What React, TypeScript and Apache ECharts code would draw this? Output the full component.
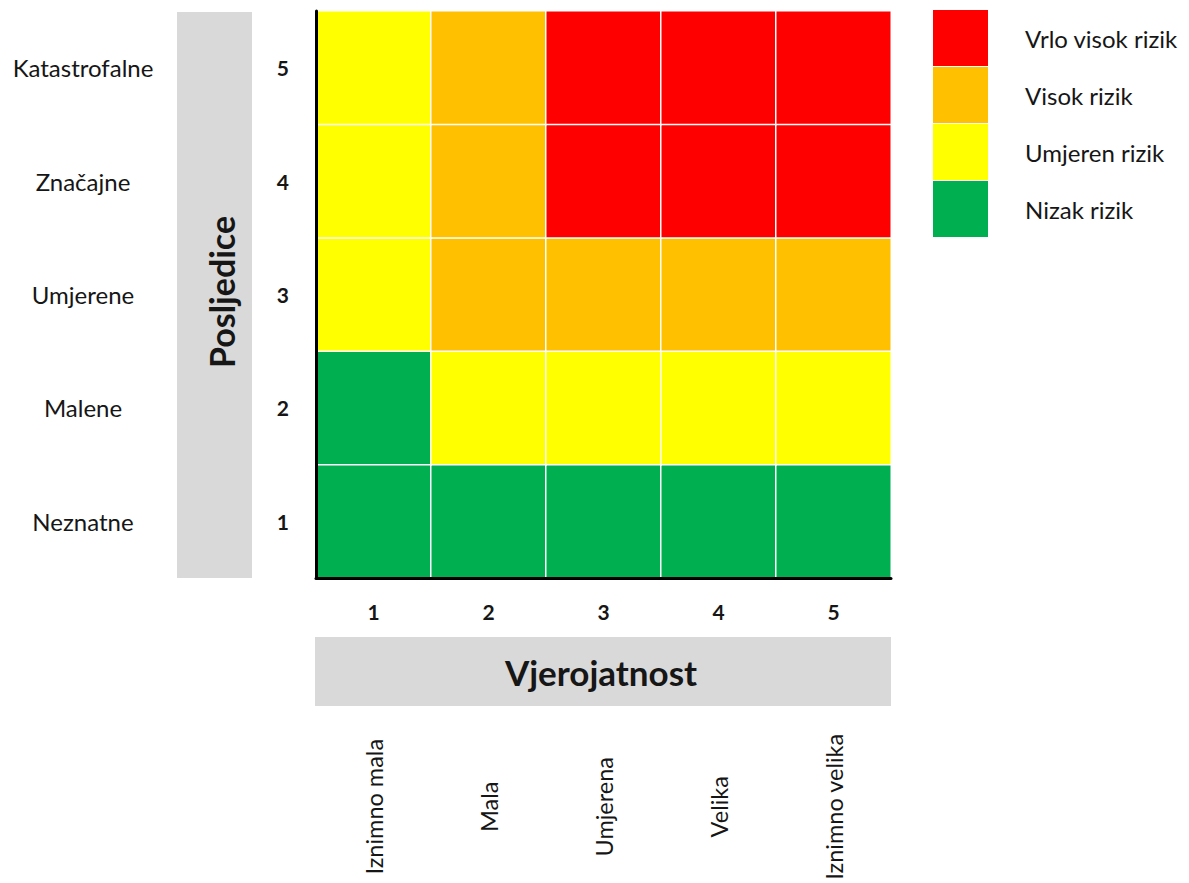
import React, { useEffect, useRef } from "react";
import * as echarts from "echarts";

const probabilityLevels = ["1", "2", "3", "4", "5"];
const probabilityNames = ["Iznimno mala", "Mala", "Umjerena", "Velika", "Iznimno velika"];
const consequenceLevels = ["1", "2", "3", "4", "5"];
const consequenceNames = ["Neznatne", "Malene", "Umjerene", "Značajne", "Katastrofalne"];

const riskLabels = ["Nizak rizik", "Umjeren rizik", "Visok rizik", "Vrlo visok rizik"];
const riskColors = ["#00B050", "#FFFF00", "#FFC000", "#FF0000"];

// risk level (1..4) per consequence row, columns = probability 1..5
const riskRow1 = [1, 1, 1, 1, 1];
const riskRow2 = [1, 2, 2, 2, 2];
const riskRow3 = [2, 3, 3, 3, 3];
const riskRow4 = [2, 3, 4, 4, 4];
const riskRow5 = [2, 3, 4, 4, 4];
const riskRows = [riskRow1, riskRow2, riskRow3, riskRow4, riskRow5];

const xTitle = "Vjerojatnost";
const yTitle = "Posljedice";

const FONT = "Lato, 'Open Sans', sans-serif";
const TEXT = "#161616";

export default function App() {
  const ref = useRef<HTMLDivElement>(null);
  useEffect(() => {
    if (!ref.current) return;
    const chart = echarts.init(ref.current, null, { renderer: "svg" });
    const data: number[][] = [];
    riskRows.forEach((row, yi) => row.forEach((v, xi) => data.push([xi, yi, v])));

    const gridLeft = 316;
    const gridTop = 11;
    const gridW = 575;
    const gridH = 567;

    chart.setOption({
      animation: false,
      backgroundColor: "#ffffff",
      textStyle: { fontFamily: FONT },
      grid: { left: gridLeft, top: gridTop, width: gridW, height: gridH },
      xAxis: [
        {
          type: "category",
          data: probabilityLevels,
          position: "bottom",
          z: 10,
          axisLine: { show: true, lineStyle: { color: "#000", width: 3 } },
          axisTick: { show: false },
          splitLine: { show: false },
          axisLabel: { fontSize: 21, fontWeight: "bold", color: TEXT, margin: 23, fontFamily: FONT },
        },
        {
          type: "category",
          data: probabilityNames,
          position: "bottom",
          axisLine: { show: false },
          axisTick: { show: false },
          splitLine: { show: false },
          axisLabel: {
            rotate: 90,
            align: "center",
            verticalAlign: "middle",
            margin: 229,
            fontSize: 23.5,
            color: TEXT,
            padding: [9, 0, 0, 0],
            fontFamily: FONT,
          },
        },
      ],
      yAxis: [
        {
          type: "category",
          data: consequenceLevels,
          position: "left",
          z: 10,
          axisLine: { show: true, lineStyle: { color: "#000", width: 3 } },
          axisTick: { show: false },
          splitLine: { show: false },
          axisLabel: { fontSize: 21, fontWeight: "bold", color: TEXT, margin: 27, fontFamily: FONT },
        },
        {
          type: "category",
          data: consequenceNames,
          position: "left",
          axisLine: { show: false },
          axisTick: { show: false },
          splitLine: { show: false },
          axisLabel: { fontSize: 24, color: TEXT, margin: 233, align: "center", fontFamily: FONT },
        },
      ],
      visualMap: {
        type: "piecewise",
        seriesIndex: 0,
        dimension: 2,
        orient: "vertical",
        align: "left",
        left: 933,
        top: 10,
        padding: 0,
        itemWidth: 55,
        itemHeight: 56,
        itemGap: 1,
        itemSymbol: "rect",
        textGap: 37,
        selectedMode: false,
        hoverLink: false,
        textStyle: { fontSize: 24, color: TEXT, fontFamily: FONT },
        pieces: riskLabels.map((label, i) => ({ value: i + 1, label, color: riskColors[i] })),
      },
      graphic: [
        {
          type: "rect",
          z: -1,
          shape: { x: 177, y: 12, width: 75, height: 566 },
          style: { fill: "#D9D9D9" },
        },
        {
          type: "rect",
          z: -1,
          shape: { x: 315, y: 637, width: 576, height: 69 },
          style: { fill: "#D9D9D9" },
        },
        {
          type: "text",
          x: 221,
          y: 292,
          rotation: Math.PI / 2,
          style: {
            text: yTitle,
            align: "center",
            verticalAlign: "middle",
            fontSize: 34,
            fontWeight: "bold",
            fill: TEXT,
            fontFamily: FONT,
          },
        },
        {
          type: "text",
          x: 601,
          y: 672,
          style: {
            text: xTitle,
            align: "center",
            verticalAlign: "middle",
            fontSize: 35,
            fontWeight: "bold",
            fill: TEXT,
            fontFamily: FONT,
          },
        },
      ],
      series: [
        {
          type: "heatmap",
          xAxisIndex: 0,
          yAxisIndex: 0,
          data,
          itemStyle: { borderColor: "#ffffff", borderWidth: 1.5 },
          emphasis: { disabled: true },
        },
      ],
    });
    return () => chart.dispose();
  }, []);
  return (
    <div
      ref={ref}
      style={{ position: "fixed", left: 0, top: 0, width: 1189, height: 883, overflow: "hidden" }}
    />
  );
}
